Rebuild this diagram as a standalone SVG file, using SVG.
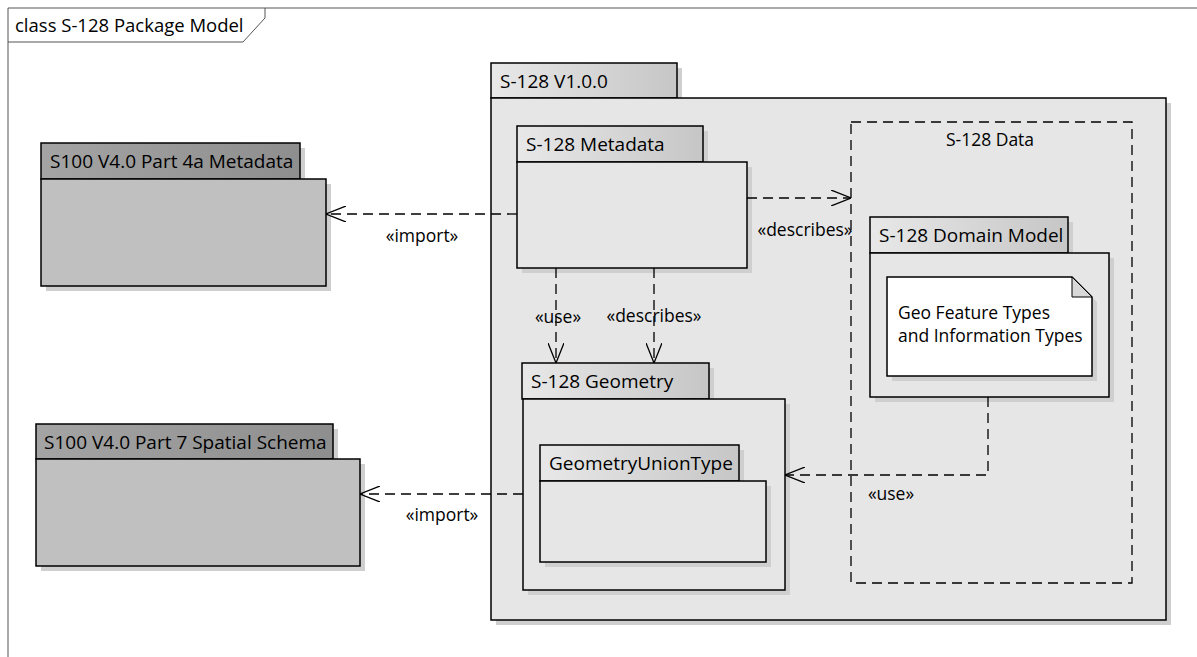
<svg xmlns="http://www.w3.org/2000/svg" width="1197" height="657" viewBox="0 0 1197 657">
<defs>
<linearGradient id="gDark" x1="0" y1="0" x2="1" y2="0"><stop offset="0" stop-color="#a4a4a4"/><stop offset="1" stop-color="#8e8e8e"/></linearGradient>
<linearGradient id="gLight" x1="0" y1="0" x2="1" y2="0"><stop offset="0" stop-color="#e8e8e8"/><stop offset="1" stop-color="#c6c6c6"/></linearGradient>
<marker id="open" viewBox="0 0 20 16" refX="20" refY="8" markerWidth="20" markerHeight="16" markerUnits="userSpaceOnUse" orient="auto"><path d="M0,0 L20,8 L0,16" fill="none" stroke="#000" stroke-width="1.3"/></marker>
</defs>
<style>
.t{font-family:"Open Sans","Liberation Sans",sans-serif;fill:#000}
.tab{font-size:19px}
.lbl{font-size:17.5px}
.ln{stroke:#000;stroke-width:1.5}
.sh{fill:#cfcfcf}
.dash{fill:none;stroke:#000;stroke-width:1.3;stroke-dasharray:10,6}
.con{fill:none;stroke:#000;stroke-width:1.3;stroke-dasharray:10,6}
</style>
<rect width="1197" height="657" fill="#fff"/>
<g id="frame">
<path d="M8,657 V8 H1197" fill="none" stroke="#555" stroke-width="1"/>
<path d="M8,42 H243 L265,18 V8" fill="none" stroke="#555" stroke-width="1"/>
<text class="t" x="15" y="32" font-size="18.5">class S-128 Package Model</text>
</g>
<g id="pkg-part4a">
<rect class="sh" x="46" y="148" width="259" height="36"/>
<rect class="sh" x="46" y="184" width="285" height="107"/>
<rect x="41" y="143" width="259" height="36" fill="url(#gDark)" class="ln"/>
<rect x="41" y="179" width="285" height="107" fill="#c0c0c0" class="ln"/>
<text class="t tab" x="50" y="168">S100 V4.0 Part 4a Metadata</text>
</g>
<g id="pkg-part7">
<rect class="sh" x="41" y="429" width="297" height="35"/>
<rect class="sh" x="41" y="464" width="324" height="107"/>
<rect x="36" y="424" width="297" height="35" fill="url(#gDark)" class="ln"/>
<rect x="36" y="459" width="324" height="107" fill="#c0c0c0" class="ln"/>
<text class="t tab" x="44" y="449">S100 V4.0 Part 7 Spatial Schema</text>
</g>
<g id="pkg-s128">
<rect class="sh" x="496" y="68" width="186" height="35"/>
<rect class="sh" x="496" y="103" width="675" height="522"/>
<rect x="491" y="63" width="186" height="35" fill="url(#gLight)" class="ln"/>
<rect x="491" y="98" width="675" height="522" fill="#e6e6e6" class="ln"/>
<text class="t tab" x="500" y="88">S-128 V1.0.0</text>
</g>
<g id="pkg-data">
<rect x="851" y="122" width="281" height="461" class="dash"/>
<text class="t lbl" x="990" y="146" text-anchor="middle">S-128 Data</text>
</g>
<g id="pkg-metadata">
<rect class="sh" x="522" y="131" width="186" height="36"/>
<rect class="sh" x="522" y="167" width="230" height="106"/>
<rect x="517" y="126" width="186" height="36" fill="url(#gLight)" class="ln"/>
<rect x="517" y="162" width="230" height="106" fill="#e6e6e6" class="ln"/>
<text class="t tab" x="526" y="151">S-128 Metadata</text>
</g>
<g id="pkg-domain">
<rect class="sh" x="875" y="222" width="198" height="36"/>
<rect class="sh" x="875" y="258" width="239" height="144"/>
<rect x="870" y="217" width="198" height="36" fill="url(#gLight)" class="ln"/>
<rect x="870" y="253" width="239" height="144" fill="#e6e6e6" class="ln"/>
<text class="t tab" x="879" y="242">S-128 Domain Model</text>
</g>
<g id="note">
<path d="M892,282 H1077 L1097,302 V381 H892 Z" class="sh"/>
<path d="M887,277 H1072 L1092,297 V376 H887 Z" fill="#fff" class="ln"/>
<path d="M1072,277 V297 H1092 Z" fill="#d8d8d8" stroke="#000" stroke-width="1"/>
<text class="t lbl" x="898" y="319">Geo Feature Types</text>
<text class="t lbl" x="898" y="342">and Information Types</text>
</g>
<g id="pkg-geometry">
<rect class="sh" x="527" y="368" width="187" height="36"/>
<rect class="sh" x="528" y="404" width="262" height="191"/>
<rect x="522" y="363" width="187" height="36" fill="url(#gLight)" class="ln"/>
<rect x="523" y="399" width="262" height="191" fill="#e6e6e6" class="ln"/>
<text class="t tab" x="531" y="388">S-128 Geometry</text>
</g>
<g id="pkg-union">
<rect class="sh" x="545" y="450" width="199" height="36"/>
<rect class="sh" x="545" y="486" width="226" height="81"/>
<rect x="540" y="445" width="199" height="36" fill="url(#gLight)" class="ln"/>
<rect x="540" y="481" width="226" height="81" fill="#e6e6e6" class="ln"/>
<text class="t tab" x="549" y="470">GeometryUnionType</text>
</g>
<g id="connectors">
<path d="M517,214 H326" class="con" marker-end="url(#open)"/>
<text class="t lbl" x="422" y="242" text-anchor="middle">«import»</text>
<path d="M747,198 H851" class="con" marker-end="url(#open)"/>
<text class="t lbl" x="805" y="236" text-anchor="middle">«describes»</text>
<path d="M556,268 V363" class="con" marker-end="url(#open)"/>
<text class="t lbl" x="558" y="323" text-anchor="middle">«use»</text>
<path d="M654,268 V363" class="con" marker-end="url(#open)"/>
<text class="t lbl" x="654" y="322" text-anchor="middle">«describes»</text>
<path d="M988,397 V475 H785" class="con" marker-end="url(#open)"/>
<text class="t lbl" x="891" y="500" text-anchor="middle">«use»</text>
<path d="M523,494 H360" class="con" marker-end="url(#open)"/>
<text class="t lbl" x="442" y="521" text-anchor="middle">«import»</text>
</g>
</svg>
